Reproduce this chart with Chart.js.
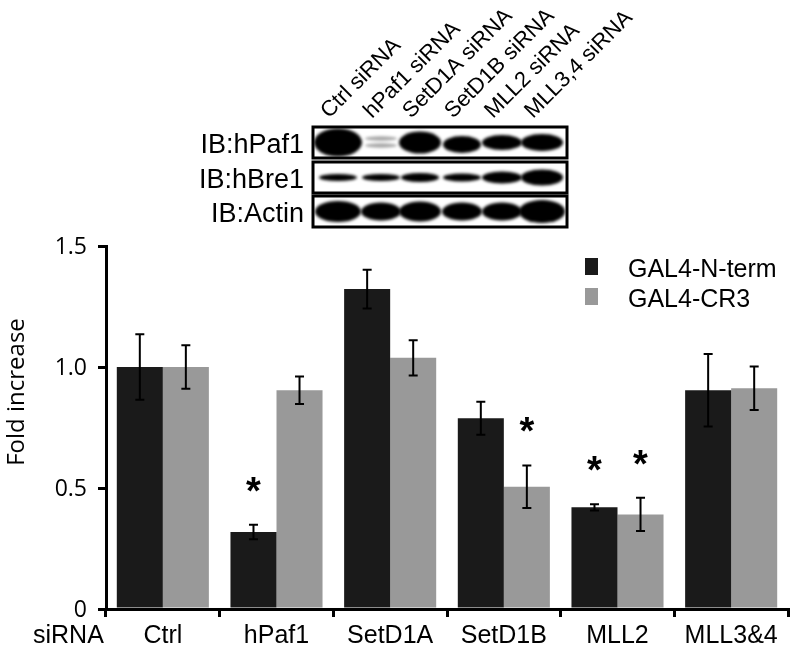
<!DOCTYPE html>
<html><head><meta charset="utf-8">
<script src="https://cdn.jsdelivr.net/npm/chart.js@4.4.0/dist/chart.umd.min.js"></script>
<style>html,body{margin:0;padding:0;background:#fff}#c{display:block}</style>
</head><body>
<canvas id="c" width="796" height="655"></canvas>
<script>
// ---- data ----
const categories = ['Ctrl', 'hPaf1', 'SetD1A', 'SetD1B', 'MLL2', 'MLL3&4'];
const seriesNames = ['GAL4-N-term', 'GAL4-CR3'];
const nTermValues = [1.00, 0.318, 1.322, 0.788, 0.420, 0.904];
const nTermErrors = [0.135, 0.030, 0.080, 0.068, 0.013, 0.150];
const cr3Values = [1.00, 0.904, 1.038, 0.505, 0.391, 0.912];
const cr3Errors = [0.090, 0.057, 0.073, 0.088, 0.069, 0.090];
const nTermSignificant = [false, true, false, false, true, false];
const cr3Significant = [false, false, false, true, true, false];
const yTicks = [0, 0.5, 1.0, 1.5];
const yTickLabels = ['0', '0.5', '1.0', '1.5'];
const xAxisPrefix = 'siRNA';
const yTitle = 'Fold increase';
const laneLabels = ['Ctrl siRNA', 'hPaf1 siRNA', 'SetD1A siRNA', 'SetD1B siRNA', 'MLL2 siRNA', 'MLL3,4 siRNA'];
const blotRows = ['IB:hPaf1', 'IB:hBre1', 'IB:Actin'];
// band thickness per lane
const hPaf1Bands = [28, 6, 22, 17, 15, 17];
const hBre1Bands = [7, 7, 9, 8, 12, 16];
const actinBands = [21, 18, 20, 18, 18, 23];

const BLACK = '#1a1a1a', GRAY = '#999999';

function txt(ctx, t, x, y, font, align) {
  ctx.save();
  ctx.font = font;
  ctx.textAlign = align;
  ctx.textBaseline = 'alphabetic';
  ctx.fillStyle = '#000';
  ctx.fillText(t, x, y);
  ctx.restore();
}

const decor = {
  id: 'decor',
  afterDraw(chart) {
    const ctx = chart.ctx;
    const ys = chart.scales.y, xs = chart.scales.x;
    const errs = [nTermErrors, cr3Errors];
    const vals = [nTermValues, cr3Values];
    const sig = [nTermSignificant, cr3Significant];
    ctx.save();
    ctx.strokeStyle = '#000';
    ctx.lineWidth = 2;
    for (let d = 0; d < 2; d++) {
      const meta = chart.getDatasetMeta(d);
      meta.data.forEach((bar, i) => {
        const x = bar.x;
        const top = ys.getPixelForValue(vals[d][i] + errs[d][i]);
        const bot = ys.getPixelForValue(vals[d][i] - errs[d][i]);
        ctx.beginPath();
        ctx.moveTo(x, top); ctx.lineTo(x, bot);
        ctx.moveTo(x - 4.5, top); ctx.lineTo(x + 4.5, top);
        ctx.moveTo(x - 4.5, bot); ctx.lineTo(x + 4.5, bot);
        ctx.stroke();
        if (sig[d][i]) {
          txt(ctx, '*', x, top - 43 + 22, 'bold 38px "Liberation Sans"', 'center');
        }
      });
    }
    ctx.restore();
    // y tick labels
    yTicks.forEach((v, i) => {
      txt(ctx, yTickLabels[i], 87, ys.getPixelForValue(v) + 8, '23px "Open Sans"', 'right');
    });
    // x labels
    categories.forEach((c, i) => {
      txt(ctx, c, xs.getPixelForValue(i), 643, '25px "Liberation Sans"', 'center');
    });
    txt(ctx, xAxisPrefix, 33, 643, '25px "Liberation Sans"', 'left');
    // y title
    ctx.save();
    ctx.translate(17, 392);
    ctx.rotate(-Math.PI / 2);
    ctx.font = '24px "Open Sans"';
    ctx.textAlign = 'center';
    ctx.textBaseline = 'middle';
    ctx.fillStyle = '#000';
    ctx.fillText(yTitle, 0, 0);
    ctx.restore();
    // legend
    const colors = [BLACK, GRAY];
    seriesNames.forEach((n, i) => {
      const y0 = 258 + i * 30;
      ctx.fillStyle = colors[i];
      ctx.fillRect(585, y0, 13, 17);
      txt(ctx, n, 628, y0 + 19, '25px "Liberation Sans"', 'left');
    });
    // western blot panel
    const boxX = 313, boxW = 254;
    const boxYs = [127, 162, 196], boxH = 31;
    const lanes = [338, 381, 420, 462, 502, 542];
    const bands = [hPaf1Bands, hBre1Bands, actinBands];
    const widths = [[48, 32, 42, 38, 40, 42], [38, 38, 38, 38, 40, 42], [46, 40, 42, 40, 40, 46]];
    blotRows.forEach((r, k) => {
      const by = boxYs[k];
      ctx.fillStyle = '#fff';
      ctx.fillRect(boxX, by, boxW, boxH);
      ctx.save();
      ctx.beginPath(); ctx.rect(boxX, by, boxW, boxH); ctx.clip();
      ctx.filter = 'blur(1.5px)';
      lanes.forEach((lx, j) => {
        const h = bands[k][j], w = widths[k][j];
        ctx.fillStyle = '#000';
        const cy = by + boxH / 2 + (k === 0 && j === 3 ? 2 : 0);
        if (k === 0 && j === 1) {
          ctx.fillStyle = 'rgba(0,0,0,0.35)';
          ctx.beginPath(); ctx.ellipse(lx, cy - 4, w / 2, 2.2, 0, 0, Math.PI * 2); ctx.fill();
          ctx.beginPath(); ctx.ellipse(lx, cy + 3, w / 2, 2.2, 0, 0, Math.PI * 2); ctx.fill();
        } else {
          ctx.beginPath(); ctx.ellipse(lx, cy, w / 2, h / 2, 0, 0, Math.PI * 2); ctx.fill();
        }
      });
      ctx.restore();
      ctx.strokeStyle = '#000';
      ctx.lineWidth = 3;
      ctx.strokeRect(boxX, by, boxW, boxH);
      txt(ctx, r, 304, by + boxH / 2 + 10, '27px "Liberation Sans"', 'right');
    });
    // lane labels
    laneLabels.forEach((t, j) => {
      ctx.save();
      ctx.translate(lanes[j] - 9, 119);
      ctx.rotate(-45 * Math.PI / 180);
      ctx.font = '22px "Liberation Sans"';
      ctx.textAlign = 'left';
      ctx.textBaseline = 'alphabetic';
      ctx.fillStyle = '#000';
      ctx.fillText(t, 0, 0);
      ctx.restore();
    });
  }
};

new Chart(document.getElementById('c'), {
  type: 'bar',
  data: {
    labels: categories,
    datasets: [
      { label: seriesNames[0], data: nTermValues, backgroundColor: BLACK, borderWidth: 0,
        barPercentage: 1.0, categoryPercentage: 0.81 },
      { label: seriesNames[1], data: cr3Values, backgroundColor: GRAY, borderWidth: 0,
        barPercentage: 1.0, categoryPercentage: 0.81 }
    ]
  },
  options: {
    responsive: false,
    devicePixelRatio: 1,
    animation: false,
    layout: { padding: { top: 246, right: 8, left: 0, bottom: 0 } },
    plugins: { legend: { display: false }, tooltip: { enabled: false }, title: { display: false } },
    scales: {
      x: {
        grid: { drawOnChartArea: false, drawTicks: true, tickLength: 8, color: '#000', lineWidth: 3, offset: true },
        border: { display: true, color: '#000', width: 3 },
        ticks: { display: false },
        afterFit: s => { s.height = 46; }
      },
      y: {
        min: 0, max: 1.5,
        afterBuildTicks: s => { s.ticks = yTicks.map(v => ({ value: v })); },
        grid: { drawOnChartArea: false, drawTicks: true, tickLength: 8, color: '#000', lineWidth: 3 },
        border: { display: true, color: '#000', width: 3 },
        ticks: { display: false },
        afterFit: s => { s.width = 106; }
      }
    }
  },
  plugins: [decor]
});
</script>
</body></html>
